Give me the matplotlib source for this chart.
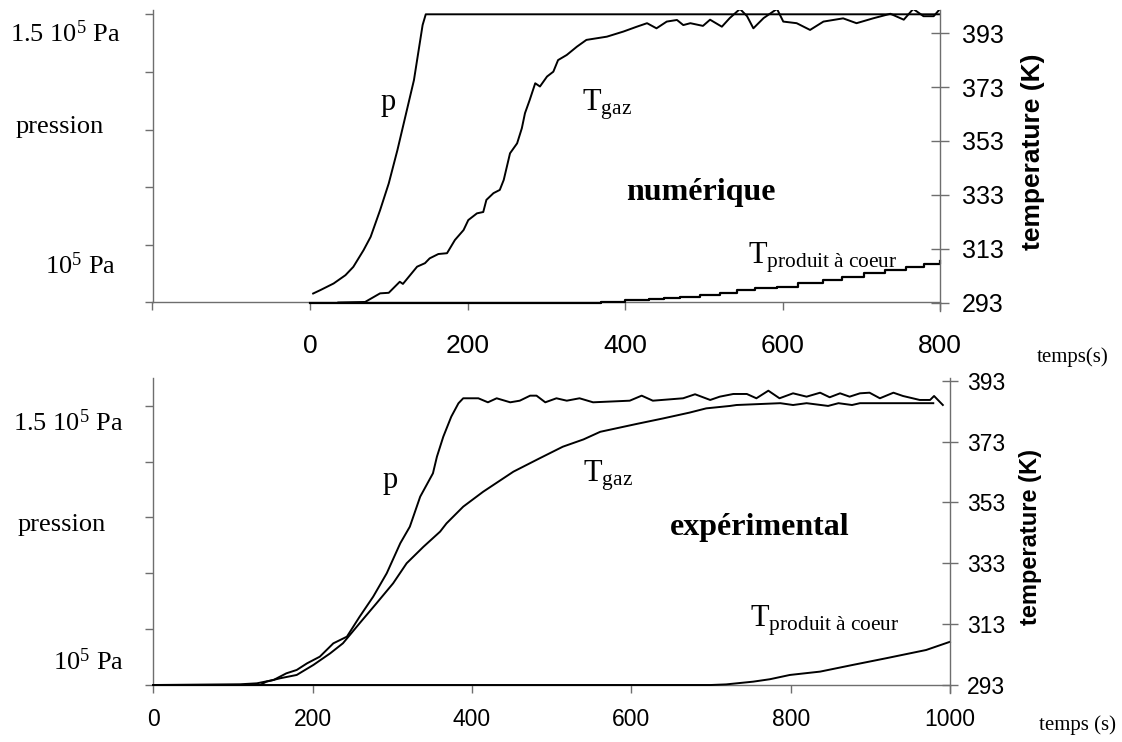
import matplotlib
matplotlib.use("Agg")
import matplotlib.pyplot as plt

plt.rcParams["mathtext.fontset"] = "custom"
plt.rcParams["mathtext.rm"] = "Liberation Serif"
plt.rcParams["mathtext.it"] = "Liberation Serif:italic"
plt.rcParams["mathtext.bf"] = "Liberation Serif:bold"

W, H = 1122, 742
GREY = "#6e6e6e"
SERIF = "Liberation Serif"
SANS = "Liberation Sans"

# numerical run (top panel)
t_p_num = [4, 13, 30, 45, 55, 68, 77, 89, 100, 111, 121, 132, 138, 143, 147, 800]
p_num = [1.0156e5, 1.0214e5, 1.033e5, 1.0474e5, 1.0618e5, 1.0908e5, 1.1139e5,
         1.1602e5, 1.2066e5, 1.2644e5, 1.3222e5, 1.3859e5, 1.438e5, 1.4814e5,
         1.5e5, 1.5e5]

t_gaz_num = [36, 70, 89, 100, 114, 118, 136, 146, 152, 163, 174, 184, 195, 201,
             212, 220, 224, 233, 241, 246, 254, 263, 269, 273, 279, 286, 292,
             301, 309, 315, 326, 339, 351, 364, 377, 398, 415, 428, 440, 453,
             466, 474, 483, 499, 508, 523, 533, 546, 555, 563, 576, 593, 601,
             618, 635, 652, 677, 694, 715, 737, 754, 766, 779, 792, 800]
T_gaz_num = [293.0, 293.2, 296.4, 296.6, 300.7, 299.9, 306.3, 307.6, 309.4,
             311.0, 311.3, 316.2, 319.9, 323.6, 326.1, 326.6, 331.1, 333.6,
             334.8, 338.5, 348.4, 352.1, 357.7, 363.3, 368.2, 374.4, 373.2,
             376.9, 378.7, 383.0, 384.9, 388.0, 390.5, 391.1, 391.7, 393.6,
             395.4, 396.7, 394.8, 397.3, 397.9, 396.0, 396.7, 395.7, 398.0,
             395.4, 398.6, 402.0, 399.3, 394.8, 398.6, 402.0, 397.3, 396.7,
             394.2, 397.3, 398.5, 396.7, 398.5, 400.2, 398.0, 402.0, 399.3,
             399.3, 402.0]

t_prod_num = [0, 370, 400, 430, 450, 470, 495, 520, 542, 565, 593, 620, 652,
              675, 703, 730, 757, 780, 800]
T_prod_num = [293.0, 293.3, 293.8, 294.2, 294.6, 295.2, 295.8, 296.6, 297.6,
              298.2, 298.9, 300.1, 301.4, 302.5, 303.8, 305.1, 306.3, 307.4,
              308.5]

# experiment (bottom panel)
t_p_exp = [0, 109, 130, 151, 167, 180, 193, 209, 226, 243, 259, 276, 293, 310,
           322, 335, 351, 356, 364, 374, 383, 389, 408, 420, 431, 448, 460,
           473, 481, 492, 506, 519, 535, 552, 598, 613, 627, 665, 680, 699,
           711, 728, 745, 757, 772, 786, 803, 820, 837, 849, 862, 874, 887,
           899, 912, 929, 941, 962, 975, 980, 991]
p_exp = [1.0e5, 1.0013e5, 1.003e5, 1.009e5, 1.0209e5, 1.0269e5, 1.0388e5,
         1.0507e5, 1.0746e5, 1.0865e5, 1.1223e5, 1.1581e5, 1.2e5, 1.2537e5,
         1.2834e5, 1.3371e5, 1.3789e5, 1.4087e5, 1.4445e5, 1.4803e5, 1.5042e5,
         1.5132e5, 1.5132e5, 1.506e5, 1.5132e5, 1.506e5, 1.5089e5, 1.5179e5,
         1.5179e5, 1.506e5, 1.5132e5, 1.5089e5, 1.5132e5, 1.506e5, 1.5089e5,
         1.5179e5, 1.5089e5, 1.5132e5, 1.5204e5, 1.5102e5, 1.5161e5, 1.5209e5,
         1.5209e5, 1.5132e5, 1.5268e5, 1.5132e5, 1.5221e5, 1.5161e5, 1.5232e5,
         1.515e5, 1.5221e5, 1.5161e5, 1.5221e5, 1.5232e5, 1.5132e5, 1.5232e5,
         1.5173e5, 1.5102e5, 1.5102e5, 1.5173e5, 1.5012e5]

t_gaz_exp = [0, 134, 142, 159, 180, 201, 222, 238, 259, 280, 301, 318, 339,
             360, 368, 389, 414, 452, 485, 514, 540, 561, 607, 640, 673, 694,
             724, 732, 787, 803, 820, 847, 860, 877, 887, 979]
T_gaz_exp = [293.0, 293.0, 294.1, 295.2, 296.3, 299.6, 303.4, 306.7, 313.3,
             319.8, 326.4, 333.0, 338.4, 343.4, 346.1, 351.6, 356.5, 363.1,
             367.5, 371.3, 373.7, 376.2, 378.8, 380.6, 382.5, 383.9, 384.7,
             385.0, 385.6, 385.0, 385.6, 384.7, 385.6, 385.0, 385.6, 385.6]

t_prod_exp = [0, 700, 719, 753, 774, 799, 837, 878, 920, 970, 1000]
T_prod_exp = [293.0, 293.0, 293.2, 294.1, 294.9, 296.3, 297.4, 299.6, 301.8,
              304.5, 307.2]

temp_ticks = [293, 313, 333, 353, 373, 393]
p_ticks = [1.0e5, 1.1e5, 1.2e5, 1.3e5, 1.4e5, 1.5e5]
x_ticks_num = [-200, 0, 200, 400, 600, 800]
x_labels_num = ["", "0", "200", "400", "600", "800"]
x_ticks_exp = [0, 200, 400, 600, 800, 1000]


def px(x, y):
    return x / W, 1 - y / H


def style_axes(ax, ax2, xsize, ysize, xpad, ypad, rlen):
    for s in ["top", "right"]:
        ax.spines[s].set_visible(False)
    for s in ["top", "left", "bottom"]:
        ax2.spines[s].set_visible(False)
    for s in ["left", "bottom"]:
        ax.spines[s].set_color(GREY)
        ax.spines[s].set_linewidth(1.0)
    ax2.spines["right"].set_color(GREY)
    ax2.spines["right"].set_linewidth(1.0)
    ax.tick_params(axis="y", direction="out", length=6, width=1, color=GREY,
                   labelleft=False)
    ax.tick_params(axis="x", direction="out", length=5.8, width=1, color=GREY,
                   labelsize=xsize, pad=xpad)
    ax2.tick_params(axis="y", direction="inout", length=rlen, width=1,
                    color=GREY, labelsize=ysize, pad=ypad)
    for lab in ax.get_xticklabels() + ax2.get_yticklabels():
        lab.set_fontfamily(SANS)


fig = plt.figure(figsize=(W / 100, H / 100), dpi=100)

# ---- top panel: numérique
ax = fig.add_axes([152.5 / W, 1 - 302.5 / H, (940 - 152.5) / W, 292.5 / H])
ax2 = ax.twinx()
ax.plot(t_p_num, p_num, color="black", lw=1.4)
ax2.plot(t_gaz_num, T_gaz_num, color="black", lw=1.4)
ax2.plot(t_prod_num, T_prod_num, color="black", lw=1.6, drawstyle="steps-post",
         clip_on=False)
ax.set_xlim(-200, 800)
ax.set_ylim(1.0e5, 1.50746e5)
ax2.set_ylim(293, 401.6)
ax.set_xticks(x_ticks_num)
ax.set_xticklabels(x_labels_num)
ax.set_yticks(p_ticks)
ax2.set_yticks(temp_ticks)
style_axes(ax, ax2, 19, 18, 17, 9.5, 12.5)
ax2.spines["right"].set_bounds(289.8, 401.6)

# ---- bottom panel: expérimental
bx = fig.add_axes([153.3 / W, 1 - 685 / H, (950 - 153.3) / W, 307.5 / H])
bx2 = bx.twinx()
bx.plot(t_p_exp, p_exp, color="black", lw=1.4, clip_on=False)
bx2.plot(t_gaz_exp, T_gaz_exp, color="black", lw=1.4, clip_on=False)
bx2.plot(t_prod_exp, T_prod_exp, color="black", lw=1.4, clip_on=False)
bx.set_xlim(0, 1000)
bx.set_ylim(1.0e5, 1.5504e5)
bx2.set_ylim(293, 394.04)
bx.set_xticks(x_ticks_exp)
bx.set_yticks(p_ticks)
bx2.set_yticks(temp_ticks)
style_axes(bx, bx2, 16.5, 16.5, 10.5, 6.5, 11)
bx2.spines["right"].set_bounds(290.5, 394.04)

# ---- annotations
serif_txt = [
    ("1.5 10$^{\\mathrm{5}}$ Pa", 10, 41.7),
    ("pression", 16, 133),
    ("10$^{\\mathrm{5}}$ Pa", 45, 274),
    ("1.5 10$^{\\mathrm{5}}$ Pa", 12.7, 430.7),
    ("pression", 18, 530.7),
    ("10$^{\\mathrm{5}}$ Pa", 53, 670),
]
for s, x, y in serif_txt:
    fig.text(*px(x, y), s, family=SERIF, fontsize=19, ha="left", va="baseline")

curve_txt = [
    ("p", 381, 110),
    ("$\\mathrm{T}_{\\mathrm{gaz}}$", 582, 110),
    ("$\\mathrm{T}_{\\mathrm{produit\\ à\\ coeur}}$", 748, 263.3),
    ("p", 383, 488),
    ("$\\mathrm{T}_{\\mathrm{gaz}}$", 583, 481.7),
    ("$\\mathrm{T}_{\\mathrm{produit\\ à\\ coeur}}$", 750, 626.7),
]
for s, x, y in curve_txt:
    fig.text(*px(x, y), s, family=SERIF, fontsize=22, ha="left", va="baseline")

fig.text(*px(701, 200), "numérique", family=SERIF, fontsize=23,
         fontweight="bold", ha="center", va="baseline")
fig.text(*px(760, 535), "expérimental", family=SERIF, fontsize=23,
         fontweight="bold", ha="center", va="baseline")

fig.text(*px(1037, 361.7), "temps(s)", family=SERIF, fontsize=15,
         ha="left", va="baseline")
fig.text(*px(1039, 730), "temps (s)", family=SERIF, fontsize=15,
         ha="left", va="baseline")

fig.text(*px(1033, 152), "temperature (K)", family=SANS, fontsize=19,
         fontweight="bold", rotation=90, ha="center", va="center")
fig.text(*px(1030, 537), "temperature (K)", family=SANS, fontsize=17,
         fontweight="bold", rotation=90, ha="center", va="center")

fig.savefig("out.png", dpi=100, facecolor="white")
